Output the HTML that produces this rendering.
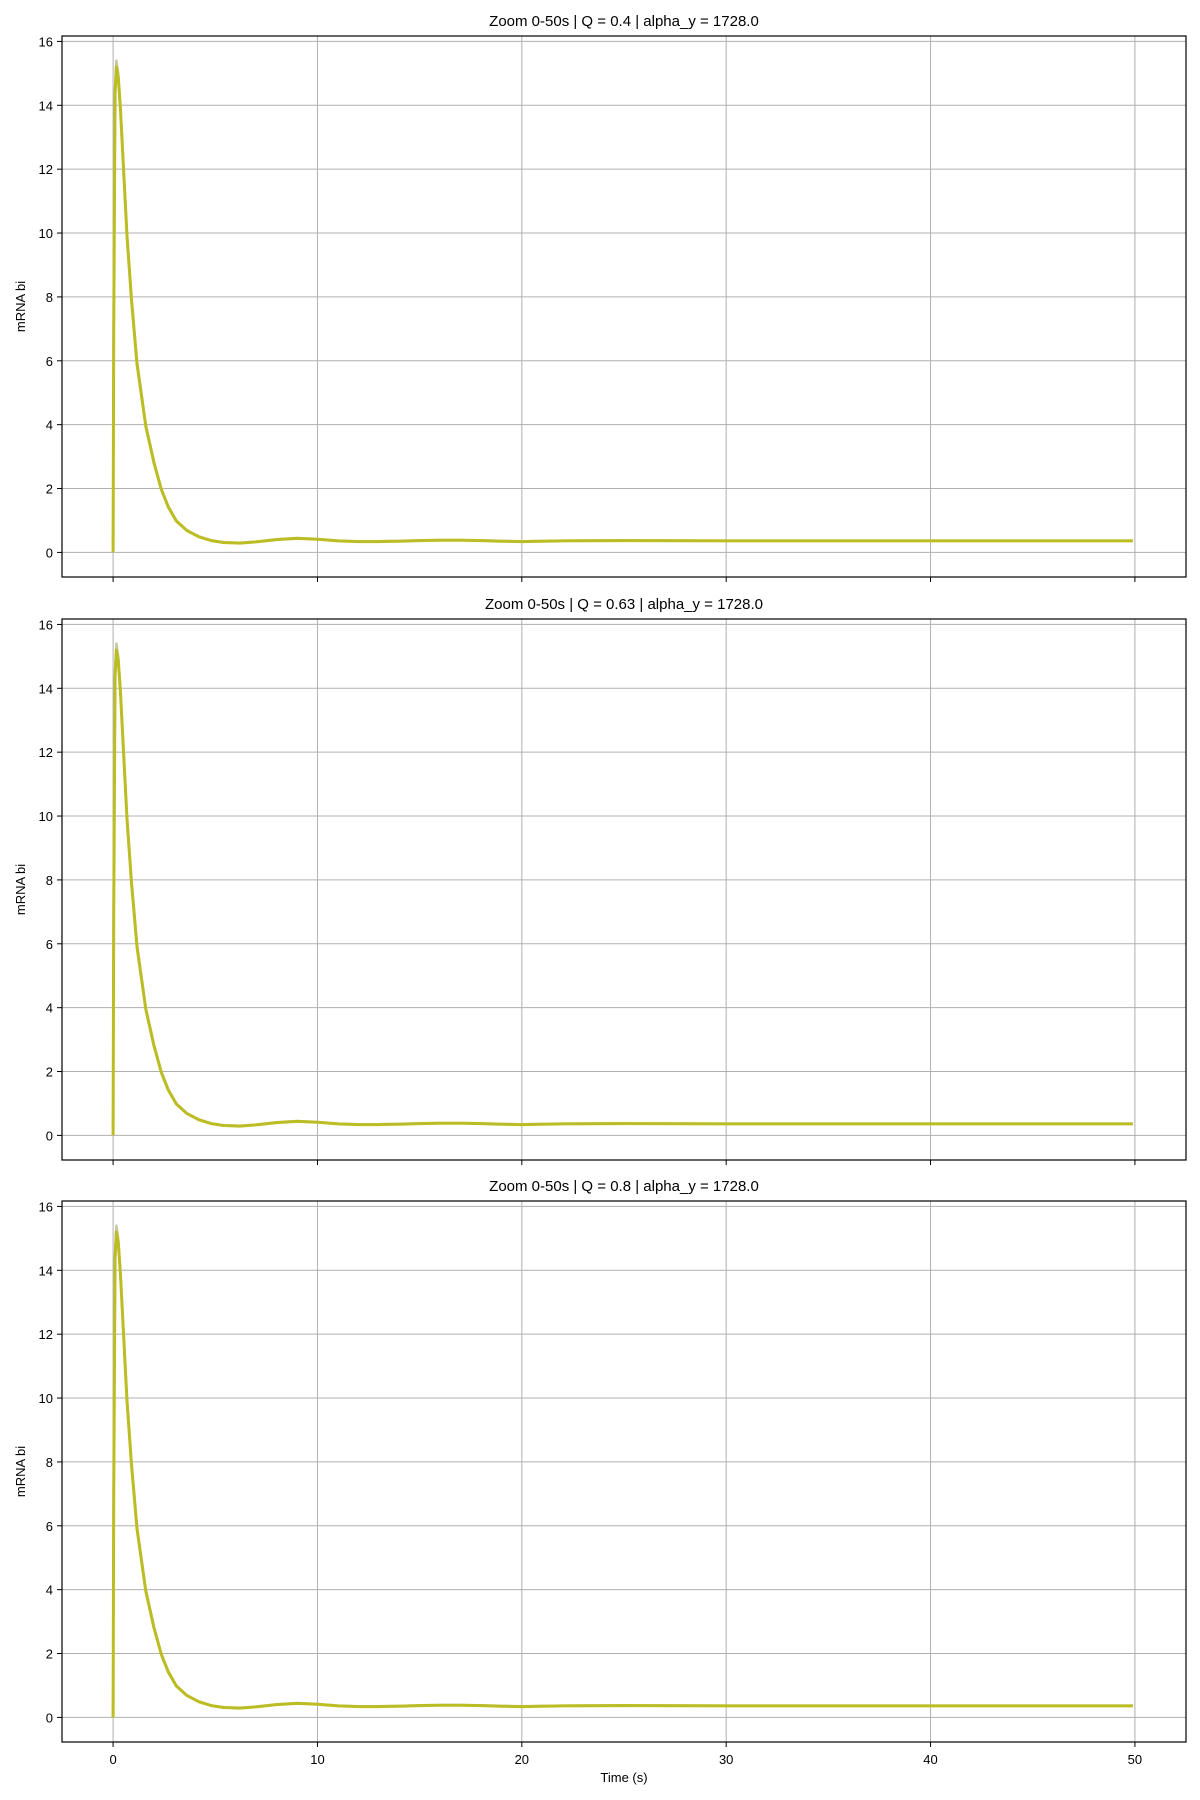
<!DOCTYPE html>
<html><head><meta charset="utf-8"><style>
body{margin:0;background:#fff}
svg{display:block;font-family:"Liberation Sans","DejaVu Sans",sans-serif}
</style></head><body>
<svg id="fig" width="1200" height="1800" viewBox="0 0 1200 1800" xmlns="http://www.w3.org/2000/svg"></svg>
<script>
const titles = ["Zoom 0-50s | Q = 0.4 | alpha_y = 1728.0","Zoom 0-50s | Q = 0.63 | alpha_y = 1728.0","Zoom 0-50s | Q = 0.8 | alpha_y = 1728.0"];
const timeValues = [0,0.03,0.1,0.16,0.25,0.36,0.52,0.68,0.9,1.17,1.6,2.0,2.36,2.7,3.1,3.6,4.2,4.8,5.4,6.2,7,8,9,10,11,12,13,14,15,16,17,18,19,20,22,25,30,40,49.9];
const greySeries = [0,7,14.6,15.4,15.0,14,12,10,8,6,4,2.85,2,1.45,1.0,0.7,0.5,0.38,0.32,0.30,0.34,0.41,0.45,0.42,0.37,0.35,0.35,0.36,0.38,0.39,0.39,0.38,0.36,0.35,0.37,0.38,0.37,0.37,0.37];
const oliveSeries = [0,6.9,14.4,15.2,14.9,13.9,11.9,9.9,7.9,5.9,3.95,2.8,1.97,1.42,0.98,0.69,0.49,0.37,0.31,0.29,0.33,0.40,0.44,0.41,0.36,0.34,0.34,0.35,0.37,0.38,0.38,0.37,0.35,0.34,0.36,0.37,0.36,0.36,0.36];
const yTicks = [0,2,4,6,8,10,12,14,16];
const xTicks = [0,10,20,30,40,50];
const NS="http://www.w3.org/2000/svg";
const svg=document.getElementById('fig');
function mk(tag,attrs,parent){const e=document.createElementNS(NS,tag);for(const k in attrs)e.setAttribute(k,attrs[k]);(parent||svg).appendChild(e);return e;}
const L=62,R=1186,H=541,tops=[36,619,1201];
const xmin=-2.5,xmax=52.5,ymin=-0.77,ymax=16.17;
titles.forEach((title,p)=>{
  const T=tops[p],B=T+H;
  const g=mk('g',{});
  
  
  const X=v=>L+(v-xmin)/(xmax-xmin)*(R-L);
  const Y=v=>B-(v-ymin)/(ymax-ymin)*H;
  yTicks.forEach(v=>{
    const ln=mk('line',{x1:L,x2:R,y1:Y(v),y2:Y(v),stroke:'#b0b0b0','stroke-width':1},g);
    
    
    mk('line',{x1:L-5,x2:L,y1:Y(v),y2:Y(v),stroke:'#000','stroke-width':1},g);
    const t=mk('text',{x:L-9,y:Y(v)+5,'text-anchor':'end','font-size':13,fill:'#000'},g);
    t.textContent=v;
    
    
  });
  xTicks.forEach(v=>{
    const ln=mk('line',{x1:X(v),x2:X(v),y1:T,y2:B,stroke:'#b0b0b0','stroke-width':1},g);
    
    
    mk('line',{x1:X(v),x2:X(v),y1:B,y2:B+5,stroke:'#000','stroke-width':1},g);
    if(p===2){
      const t=mk('text',{x:X(v),y:B+22,'text-anchor':'middle','font-size':13,fill:'#000'},g);
      t.textContent=v;
      
      
    }
  });
  const pts=s=>timeValues.map((t,i)=>X(t).toFixed(1)+','+Y(s[i]).toFixed(1)).join(' ');
  const l1=mk('polyline',{points:pts(greySeries),fill:'none',stroke:'#c8c8a0','stroke-width':2.5,'stroke-linejoin':'round'},g);
  
  
  const l2=mk('polyline',{points:pts(oliveSeries),fill:'none',stroke:'#bcbd22','stroke-width':3,'stroke-linejoin':'round'},g);
  
  
  const fr=mk('rect',{x:L,y:T,width:R-L,height:H,fill:'none',stroke:'#000','stroke-width':1.2},g);
  
  
  const tt=mk('text',{x:(L+R)/2,y:T-10,'text-anchor':'middle','font-size':15,fill:'#000'},g);
  tt.textContent=title;
  
  
  const yl=mk('text',{x:0,y:0,'text-anchor':'middle','font-size':13,fill:'#000',transform:`translate(25,${(T+B)/2}) rotate(-90)`},g);
  yl.textContent='mRNA bi';
  
  
});
const xl=mk('text',{x:(L+R)/2,y:1782,'text-anchor':'middle','font-size':13,fill:'#000'});
xl.textContent='Time (s)';


</script>
</body></html>
